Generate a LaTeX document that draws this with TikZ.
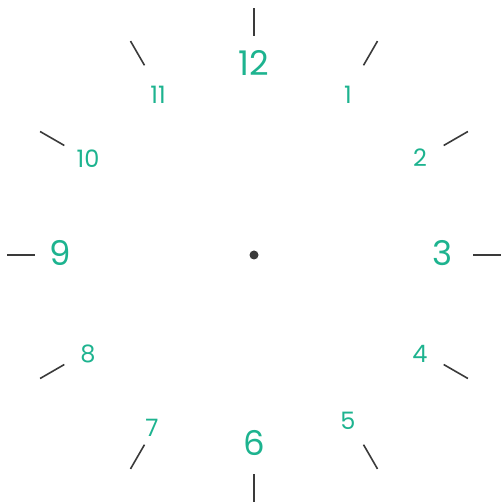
\documentclass[tikz,border=0pt]{standalone}
\usepackage{fontspec}
\setmainfont{Poppins}
\definecolor{hourteal}{HTML}{1DB38F}
\definecolor{tickgray}{HTML}{3A3A3A}
\tikzset{
    small hour/.style={hourteal,font=\fontsize{24}{24}\selectfont},
    big hour/.style={hourteal,font=\fontsize{34}{34}\selectfont},
}
\begin{document}
\begin{tikzpicture}[x=1pt,y=1pt]
    \useasboundingbox (-254,-247) rectangle (246,255);

    % Ticks
    \foreach \k in {0,...,11}
        \draw[tickgray,line width=1.6pt] (90-30*\k:219) -- (90-30*\k:247);

    % Centre
    \coordinate (centre) at (0,0);
    \fill[tickgray] (centre) circle (4.5pt);

    % Hours
    \node[big hour] (h12) at (0,192) {12};
    \node[small hour] (h1) at (94,160) {1};
    \node[small hour] (h2) at (166,97) {2};
    \node[big hour] (h3) at (189,2) {3};
    \node[small hour] (h4) at (166,-99) {4};
    \node[small hour] (h5) at (94,-166) {5};
    \node[big hour] (h6) at (0,-188) {6};
    \node[small hour] (h7) at (-102,-173) {7};
    \node[small hour] (h8) at (-166,-99) {8};
    \node[big hour] (h9) at (-194,2) {9};
    \node[small hour] (h10) at (-166,96) {10};
    \node[small hour] (h11) at (-96,160) {11};
\end{tikzpicture}
\end{document}
